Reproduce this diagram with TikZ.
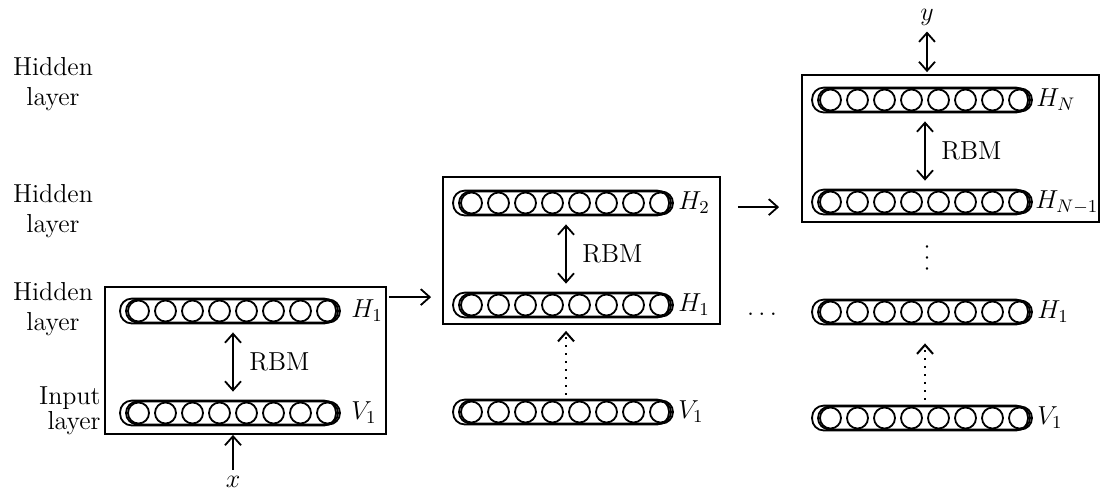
\documentclass[tikz,border=0pt]{standalone}
\usepackage{fix-cm}
\usepackage{tikz}
\usetikzlibrary{calc, positioning, arrows.meta}

\tikzset{
	unitbar/.style={draw, line width=0.9pt, rectangle, rounded corners=5.75pt,
			minimum width=107pt, minimum height=11.5pt, inner sep=0pt},
	unitline/.style={line width=0.9pt},
	stage/.style={draw, line width=0.9pt, inner sep=0pt, minimum height=73.5pt},
	lbl/.style={inner sep=1pt},
	sidelbl/.style={inner sep=0pt, align=center},
	link/.style={line width=0.9pt},
	feed/.style={line width=1pt, dash pattern=on 0.8pt off 3.2pt},
}

% one layer of units: name, position
\newcommand{\unitrow}[2]{%
	\node[unitbar] (#1) at (#2) {};
	\draw[unitline, rounded corners=5.75pt]
	([xshift=-2.5pt]#1.south west) rectangle ([xshift=-2.5pt]#1.north east);
	\foreach \k in {0,...,7}
	\draw[unitline] ($(#1.center)+({-94.5+27*\k},0)$) circle[radius=5.25pt];
}

\begin{document}
\begin{tikzpicture}[
		x=0.5pt, y=-0.5pt,
		>={Straight Barb[length=4.5pt,width=8pt]},
		every node/.append style={font=\fontsize{13}{15}\selectfont}
	]
	\useasboundingbox (0,0) rectangle (1101,495);

	% left column labels
	\node[sidelbl] (hidc) at (53,84) {Hidden\\layer};
	\node[sidelbl] (hidb) at (53,211) {Hidden\\layer};
	\node[sidelbl] (hida) at (53,309) {Hidden\\layer};
	\node[sidelbl, align=right, anchor=east, font=\fontsize{13}{12.5}\selectfont]
	(inp) at (101,411) {Input\\layer};

	% first stage
	\node[stage, minimum width=140.5pt] (boxa) at (245.5,360.5) {};
	\unitrow{ha}{233,311}
	\unitrow{va}{233,413}
	\node[lbl, right=4pt of ha] (hal) {$H_1$};
	\node[lbl, right=4pt of va] (val) {$V_1$};
	\draw[<->, link, shorten <=4.5pt, shorten >=4.5pt] (ha) -- (va);
	\node[lbl, right=7pt] (rbma) at ($(ha)!0.5!(va)$) {RBM};
	\node[lbl] (xin) at (233,482) {$x$};
	\draw[->, link, shorten <=2pt] (xin) -- (xin |- boxa.south);

	% second stage
	\node[stage, minimum width=138.5pt] (boxb) at (581.5,250.5) {};
	\unitrow{hbb}{566,203}
	\unitrow{hba}{566,305}
	\node[lbl, right=1pt of hbb] (hbbl) {$H_2$};
	\node[lbl, right=1pt of hba] (hbal) {$H_1$};
	\draw[<->, link, shorten <=4.5pt, shorten >=4.5pt] (hbb) -- (hba);
	\node[lbl, right=7pt] (rbmb) at ($(hbb)!0.5!(hba)$) {RBM};
	\unitrow{vb}{566,412}
	\node[lbl, right=1pt of vb] (vbl) {$V_1$};
	\draw[->, feed, shorten <=2.5pt, shorten >=3pt] (vb) -- (vb |- boxb.south);

	% last stage
	\node[stage, minimum width=148.5pt] (boxc) at (950.5,148.5) {};
	\unitrow{hcn}{925,100}
	\unitrow{hcm}{925,202}
	\node[lbl, right=0.5pt of hcn] (hcnl) {$H_N$};
	\node[lbl, right=0pt of hcm] (hcml) {$H_{N-1}$};
	\draw[<->, link, shorten <=4.5pt, shorten >=4.5pt] (hcn) -- (hcm);
	\node[lbl, right=7pt] (rbmc) at ($(hcn)!0.5!(hcm)$) {RBM};
	\node[lbl] (yout) at (927,17) {$y$};
	\draw[<->, link, shorten <=2pt, shorten >=1pt] (yout) -- (yout |- boxc.north);
	\node[lbl, rotate=90] (vdots) at (927,258) {$\ldots$};
	\unitrow{hca}{925,312}
	\unitrow{vc}{925,418}
	\node[lbl, right=1pt of hca] (hcal) {$H_1$};
	\node[lbl, right=1pt of vc] (vcl) {$V_1$};
	\draw[->, feed, shorten <=3pt, shorten >=9.5pt] (vc) -- (hca);
	\node[lbl] (hdots) at (762,314) {$\ldots$};

	% stage to stage
	\draw[->, link] ($(boxa.north east)+(2,11)$) -- ($(boxa.north east -| boxb.west)+(-11,11)$);
	\draw[->, link] ($(boxb.north east)+(17,31)$) -- ($(boxb.north east -| boxc.west)+(-22,31)$);
\end{tikzpicture}
\end{document}
